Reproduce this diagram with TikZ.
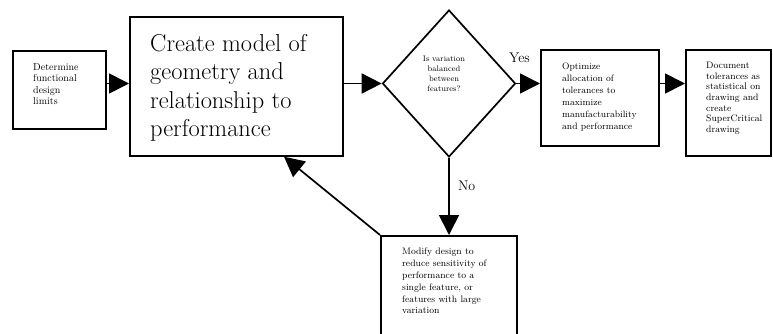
\documentclass[tikz,border=0pt]{standalone}
\usetikzlibrary{shapes.geometric,arrows.meta}
\begin{document}
\begin{tikzpicture}[x=1pt,y=-1pt,
  box/.style={draw,line width=1.7pt,inner sep=0pt,anchor=north west},
  txt/.style={inner sep=0pt,anchor=north west,align=left},
  arr/.style={line width=1.7pt,-{Triangle[length=20pt,width=20pt]}},
  lbl/.style={inner sep=0pt,anchor=base west,font=\fontsize{14}{16}\selectfont}]
\useasboundingbox (0,0) rectangle (773,334);
\clip (0,0) rectangle (773,334);

% process boxes
\node[box,minimum width=93pt,minimum height=78pt] (b1) at (12,50) {};
\node[box,minimum width=213pt,minimum height=139pt] (b2) at (129,16) {};
\node[draw,line width=1.7pt,shape=diamond,inner sep=0pt,
      minimum width=133pt,minimum height=147pt] (d) at (449,83.5) {};
\node[box,minimum width=118pt,minimum height=96pt] (b3) at (540,49) {};
\node[box,minimum width=85pt,minimum height=106pt] (b4) at (685,49) {};
\node[box,minimum width=136pt,minimum height=120pt] (b5) at (380,235) {};

% box texts
\node[txt,font=\fontsize{10}{11.5}\selectfont] (t1) at (33,63)
  {Determine\\functional\\design\\limits};
\node[txt,font=\fontsize{24.4}{28.5}\selectfont] (t2) at (150,34)
  {Create model of\\geometry and\\relationship to\\performance};
\node[txt,align=center,anchor=north,font=\fontsize{8}{10}\selectfont] (td) at (444,56)
  {Is variation\\balanced\\between\\features?};
\node[txt,font=\fontsize{9.3}{12}\selectfont] (t3) at (562,63)
  {Optimize\\allocation of\\tolerances to\\maximize\\manufacturability\\and performance};
\node[txt,font=\fontsize{9.4}{10.6}\selectfont] (t4) at (706,62)
  {Document\\tolerances as\\statistical on\\drawing and\\create\\SuperCritical\\drawing};
\node[txt,font=\fontsize{9.4}{11.8}\selectfont] (t5) at (402,248)
  {Modify design to\\reduce sensitivity of\\performance to a\\single feature, or\\features with large\\variation};

% connectors
\draw[arr] (b1.east |- d.west) -- (b2.west |- d.west);
\draw[arr] (b2.east |- d.west) -- (d.west);
\draw[arr] (d.east) -- (b3.west |- d.east);
\draw[arr] (b3.east |- d.east) -- (b4.west |- d.east);
\draw[arr] (d.south) -- (d.south |- b5.north);
\draw[arr] (b5.north west) -- ([xshift=155pt]b2.south west);

% branch labels
\node[lbl] (yes) at (509,63) {Yes};
\node[lbl] (no) at (458,190) {No};
\end{tikzpicture}
\end{document}
